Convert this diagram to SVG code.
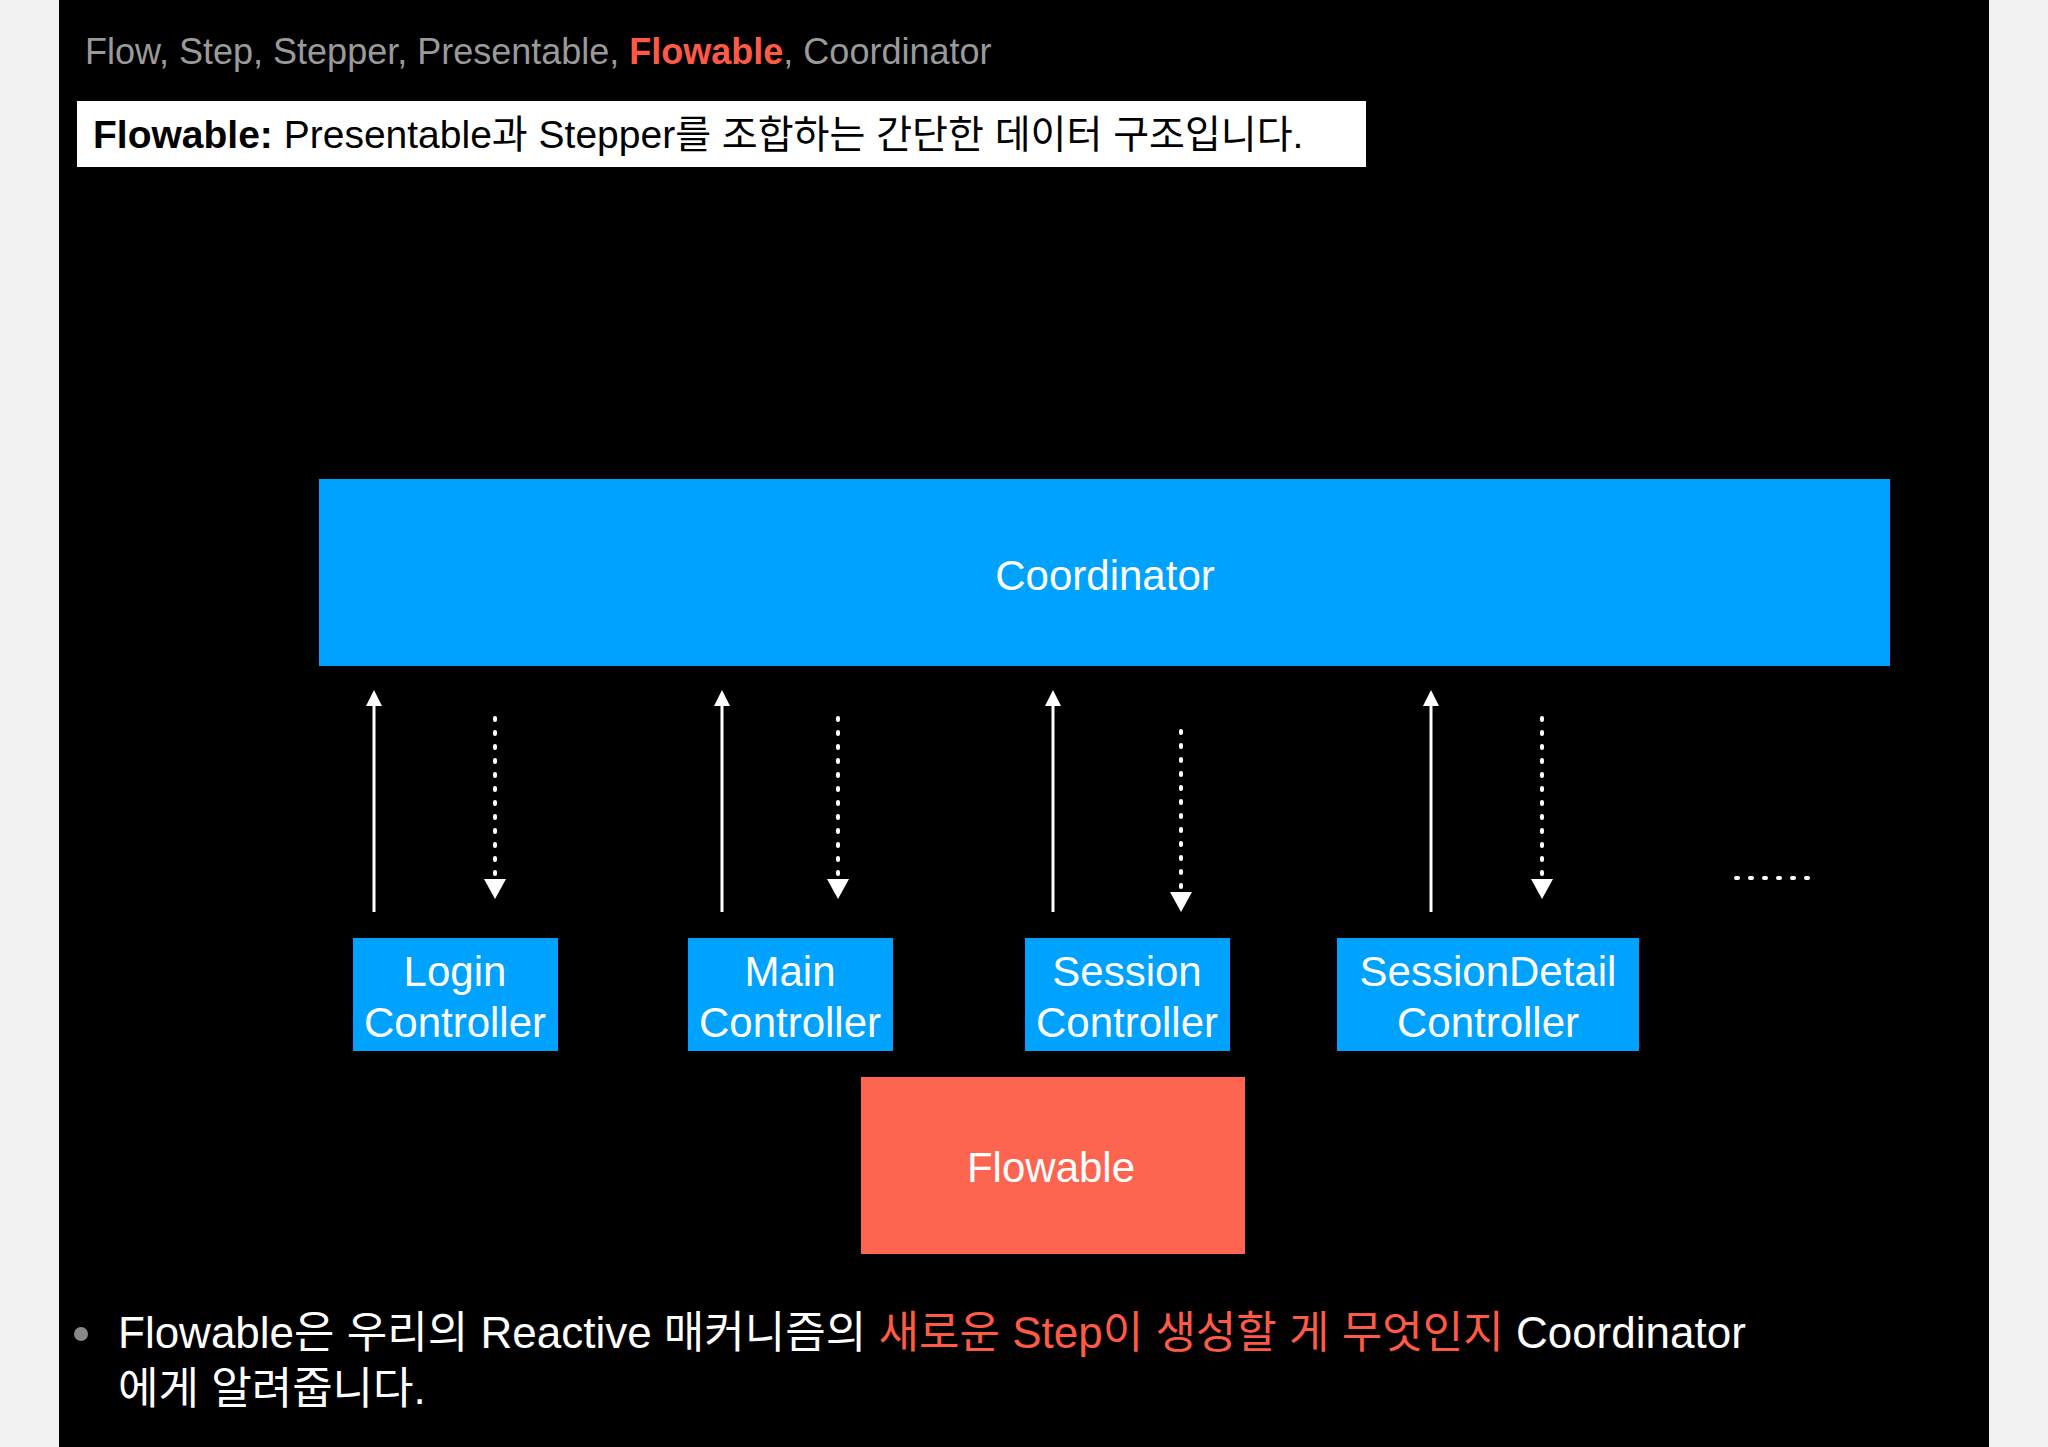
<svg xmlns="http://www.w3.org/2000/svg" width="2048" height="1447" viewBox="0 0 2048 1447">
<style>
text{font-family:"Liberation Sans","Noto Sans CJK KR",sans-serif}
.b{fill:#00a2ff}
.w{fill:#fff;font-size:42px;text-anchor:middle}
.s{stroke:#fff;stroke-width:3;fill:none}
.d{stroke:#fff;stroke-width:4;fill:none;stroke-dasharray:2 12;stroke-linecap:round}
</style>
<defs>
<marker id="ah" markerWidth="10" markerHeight="10" refX="5" refY="9" orient="auto-start-reverse" markerUnits="userSpaceOnUse" viewBox="0 0 10 10"><path d="M0,0 L10,0 L5,10 z" fill="#fff" transform="rotate(0)"/></marker>
<marker id="ad" markerWidth="20" markerHeight="24" refX="10" refY="24" orient="auto" markerUnits="userSpaceOnUse" viewBox="0 0 20 24"><path d="M0,0 L20,12 L0,24 z" fill="#fff" transform="rotate(-90 10 12) translate(0 0)"/></marker>
</defs>
<rect width="2048" height="1447" fill="#f2f2f2"/>
<rect x="59" y="0" width="1930" height="1447" fill="#000"/>
<text x="85" y="64" font-size="36" fill="#9a9a9a">Flow, Step, Stepper, Presentable, <tspan fill="#ff5a45" font-weight="bold">Flowable</tspan>, Coordinator</text>
<rect x="77" y="101" width="1289" height="66" fill="#fff"/>
<text x="93" y="148" font-size="39" font-weight="bold" fill="#000">Flowable: <tspan font-weight="normal">Presentable과 Stepper를 조합하는 간단한 데이터 구조입니다.</tspan></text>
<g id="coordinator"><rect class="b" x="319" y="479" width="1571" height="187"/><text class="w" x="1105" y="590" font-size="40">Coordinator</text></g>
<g id="connectors">
<line class="s" x1="374" y1="912" x2="374" y2="702"/><path d="M374,690 l-8,16 h16z" fill="#fff"/>
<line class="d" x1="495" y1="718" x2="495" y2="880"/><path d="M495,899 l-11,-20 h22z" fill="#fff"/>
<line class="s" x1="722" y1="912" x2="722" y2="702"/><path d="M722,690 l-8,16 h16z" fill="#fff"/>
<line class="d" x1="838" y1="718" x2="838" y2="880"/><path d="M838,899 l-11,-20 h22z" fill="#fff"/>
<line class="s" x1="1053" y1="912" x2="1053" y2="702"/><path d="M1053,690 l-8,16 h16z" fill="#fff"/>
<line class="d" x1="1181" y1="731" x2="1181" y2="893"/><path d="M1181,912 l-11,-20 h22z" fill="#fff"/>
<line class="s" x1="1431" y1="912" x2="1431" y2="702"/><path d="M1431,690 l-8,16 h16z" fill="#fff"/>
<line class="d" x1="1542" y1="718" x2="1542" y2="880"/><path d="M1542,899 l-11,-20 h22z" fill="#fff"/>
<line class="d" x1="1736" y1="878" x2="1810" y2="878"/>
</g>
<g id="login"><rect class="b" x="353" y="938" width="205" height="113"/><text class="w" x="455" y="986">Login</text><text class="w" x="455" y="1037">Controller</text></g>
<g id="main"><rect class="b" x="688" y="938" width="205" height="113"/><text class="w" x="790" y="986">Main</text><text class="w" x="790" y="1037">Controller</text></g>
<g id="session"><rect class="b" x="1025" y="938" width="205" height="113"/><text class="w" x="1127" y="986">Session</text><text class="w" x="1127" y="1037">Controller</text></g>
<g id="sessiondetail"><rect class="b" x="1337" y="938" width="302" height="113"/><text class="w" x="1488" y="986">SessionDetail</text><text class="w" x="1488" y="1037">Controller</text></g>
<g id="flowable"><rect x="861" y="1077" width="384" height="177" fill="#fe6550"/><text class="w" x="1051" y="1182" font-size="40">Flowable</text></g>
<circle cx="81" cy="1334" r="7" fill="#888"/>
<text x="118" y="1348" font-size="44" fill="#fff">Flowable은 우리의 Reactive 매커니즘의 <tspan fill="#ff5a45">새로운 Step이 생성할 게 무엇인지</tspan> Coordinator</text>
<text x="118" y="1404" font-size="44" fill="#fff">에게 알려줍니다.</text>
</svg>
